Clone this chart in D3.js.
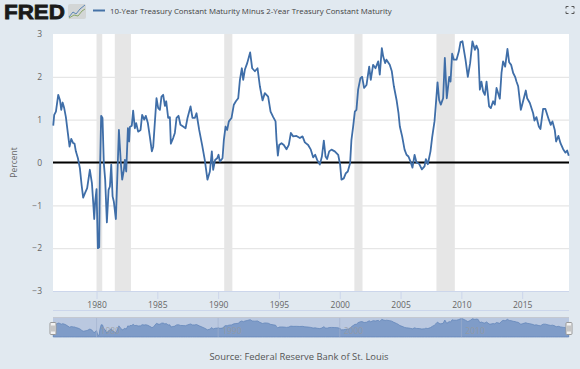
<!DOCTYPE html>
<html>
<head>
<meta charset="utf-8">
<script src="https://cdn.jsdelivr.net/npm/d3@7"></script>
<style>
  html, body { margin: 0; padding: 0; background: #e1e9f0; }
  svg { display: block; font-family: "Open Sans", sans-serif; }
</style>
</head>
<body>
<div id="chart"></div>
<script>
// values, dates as decimal years
var dates = [
  1976.44,1976.52,1976.66,1976.85,1976.99,1977.10,1977.21,1977.34,1977.48,1977.64,
  1977.78,1977.92,1978.08,1978.19,1978.30,1978.47,1978.63,1978.77,1978.90,1979.04,
  1979.23,1979.45,1979.62,1979.73,1979.81,1979.89,1980.00,1980.11,1980.22,1980.27,
  1980.38,1980.49,1980.60,1980.71,1980.85,1980.99,1981.10,1981.21,1981.32,1981.42,
  1981.59,1981.84,1982.00,1982.11,1982.25,1982.33,1982.44,1982.58,1982.68,1982.74,
  1982.90,1983.01,1983.15,1983.26,1983.42,1983.62,1983.75,1983.92,1984.05,1984.22,
  1984.38,1984.55,1984.66,1984.93,1985.07,1985.21,1985.34,1985.48,1985.62,1985.73,
  1985.89,1986.03,1986.11,1986.30,1986.44,1986.58,1986.74,1986.90,1987.12,1987.32,
  1987.48,1987.73,1987.89,1988.08,1988.22,1988.44,1988.68,1988.90,1989.12,1989.32,
  1989.48,1989.59,1989.75,1989.92,1990.03,1990.14,1990.36,1990.47,1990.61,1990.74,
  1990.88,1991.10,1991.29,1991.46,1991.65,1991.79,1991.95,1992.06,1992.20,1992.39,
  1992.63,1992.80,1993.02,1993.24,1993.43,1993.65,1993.84,1994.11,1994.31,1994.53,
  1994.72,1994.80,1994.91,1995.02,1995.21,1995.40,1995.62,1995.81,1995.98,1996.17,
  1996.44,1996.72,1996.94,1997.13,1997.40,1997.62,1997.81,1997.98,1998.14,1998.36,
  1998.53,1998.69,1998.83,1998.96,1999.13,1999.32,1999.59,1999.87,2000.03,2000.14,
  2000.33,2000.50,2000.66,2000.85,2000.96,2001.10,2001.24,2001.37,2001.51,2001.70,
  2001.84,2002.00,2002.20,2002.42,2002.55,2002.74,2002.94,2003.16,2003.29,2003.46,
  2003.57,2003.73,2003.84,2004.11,2004.28,2004.45,2004.67,2004.83,2004.94,2005.13,
  2005.33,2005.49,2005.65,2005.82,2005.98,2006.15,2006.31,2006.53,2006.75,2006.97,
  2007.08,2007.24,2007.46,2007.60,2007.79,2007.90,2008.04,2008.17,2008.31,2008.50,
  2008.64,2008.80,2009.00,2009.11,2009.24,2009.38,2009.60,2009.79,2009.93,2010.09,
  2010.34,2010.53,2010.72,2010.91,2011.11,2011.24,2011.38,2011.52,2011.65,2011.79,
  2011.93,2012.07,2012.28,2012.42,2012.61,2012.75,2012.89,2013.16,2013.30,2013.43,
  2013.60,2013.79,2013.93,2014.09,2014.26,2014.42,2014.53,2014.67,2014.89,2015.00,
  2015.30,2015.41,2015.63,2015.90,2016.01,2016.17,2016.37,2016.50,2016.72,2016.91,
  2017.19,2017.35,2017.49,2017.68,2017.79,2017.98,2018.15,2018.37,2018.56,2018.70,
  2018.83
];
var spread = [
  0.86,1.11,1.19,1.58,1.46,1.23,1.40,1.27,1.06,0.69,
  0.37,0.55,0.45,0.44,0.26,0.10,-0.13,-0.52,-0.82,-0.72,
  -0.60,-0.17,-0.48,-0.95,-1.32,-0.91,-0.62,-2.00,-1.98,-0.40,
  1.09,1.04,-0.02,-0.40,-1.40,-0.64,-0.56,-0.05,-0.79,-0.91,
  -1.32,0.76,-0.02,-0.40,-0.17,0.06,-0.21,0.80,0.49,0.83,
  0.86,1.21,0.80,0.92,0.72,0.76,1.11,1.00,1.09,0.92,
  0.61,0.26,0.37,1.50,1.27,1.23,1.54,1.58,1.32,1.43,
  1.04,1.06,0.44,0.57,0.69,1.04,1.09,0.88,0.84,0.80,
  1.04,1.31,1.04,1.04,1.15,0.76,0.41,0.06,-0.40,-0.21,
  0.26,-0.17,0.06,0.10,0.18,0.02,0.10,0.53,0.84,0.76,
  0.96,1.04,1.35,1.43,1.50,1.93,2.20,1.93,2.17,2.32,
  2.57,2.20,2.13,2.20,1.78,1.45,1.62,1.54,1.19,1.06,
  0.96,0.53,0.16,0.41,0.45,0.41,0.31,0.41,0.69,0.61,
  0.62,0.57,0.61,0.47,0.41,0.30,0.12,0.18,0.06,-0.05,
  0.14,0.51,0.14,0.08,0.26,0.30,0.26,0.18,-0.05,-0.40,
  -0.37,-0.25,-0.21,-0.02,0.53,0.84,1.19,1.23,1.70,1.97,
  2.00,1.74,1.81,2.24,1.93,2.28,2.20,2.36,2.05,2.67,
  2.48,2.32,2.40,2.28,2.13,1.78,1.46,1.15,0.84,0.61,
  0.30,0.18,0.14,0.02,-0.12,0.18,0.00,-0.03,-0.16,-0.09,
  0.08,-0.04,0.26,0.59,0.96,1.35,1.87,1.46,1.35,1.50,
  2.44,1.50,2.00,1.89,2.54,2.40,2.40,2.59,2.81,2.83,
  2.40,2.00,2.32,2.83,2.63,2.73,2.63,1.70,1.89,1.66,
  1.58,1.89,1.31,1.27,1.43,1.35,1.74,1.49,2.09,2.36,
  2.24,2.65,2.34,2.28,2.09,2.00,1.89,1.78,1.23,1.35,
  1.68,1.50,1.39,1.15,0.98,1.06,0.84,0.78,1.25,1.25,
  1.00,0.88,0.96,0.76,0.49,0.62,0.45,0.31,0.23,0.28,
  0.16
];
var recessionStart = [1980.0, 1981.5, 1990.5, 2001.2, 2007.95];
var recessionEnd = [1980.47, 1982.83, 1991.17, 2001.87, 2009.46];
var yTicks = [-3, -2, -1, 0, 1, 2, 3];
var xTicks = [1980, 1985, 1990, 1995, 2000, 2005, 2010, 2015];
var navTicks = [1980, 1990, 2000, 2010];
var seriesName = "10-Year Treasury Constant Maturity Minus 2-Year Treasury Constant Maturity";
var sourceText = "Source: Federal Reserve Bank of St. Louis";

var series = dates.map(function(d, i) { return {date: d, value: spread[i]}; });

// set the dimensions and margins of the graph
var width = 580, height = 369;
var margin = {top: 34, right: 11, bottom: 78, left: 53};
var plotWidth = width - margin.left - margin.right,
    plotHeight = height - margin.top - margin.bottom;

var svg = d3.select("#chart")
  .append("svg")
    .attr("width", width)
    .attr("height", height);

var x = d3.scaleLinear().domain([1976.42, 2018.85]).range([margin.left, margin.left + plotWidth]);
var y = d3.scaleLinear().domain([-3, 3]).range([margin.top + plotHeight, margin.top]);

// plot background
svg.append("rect")
  .attr("x", margin.left).attr("y", margin.top)
  .attr("width", plotWidth).attr("height", plotHeight)
  .attr("fill", "#fff");

// recession bands
svg.selectAll("rect.band")
  .data(recessionStart)
  .enter()
  .append("rect")
    .attr("class", "band")
    .attr("x", function(d) { return x(d); })
    .attr("y", margin.top)
    .attr("width", function(d, i) { return x(recessionEnd[i]) - x(d); })
    .attr("height", plotHeight)
    .attr("fill", "#e6e6e6");

// Y axis, only the grid and the labels are visible
var yAxis = svg.append("g")
  .attr("transform", "translate(" + margin.left + ",0)")
  .call(d3.axisLeft(y).tickValues(yTicks).tickSize(-plotWidth).tickPadding(11).tickFormat(d3.format("d")));
yAxis.select(".domain").remove();
yAxis.selectAll("line")
  .attr("stroke", "#e6e6e6")
  .attr("stroke-width", function(d) { return (d === 3 || d === -3) ? 0 : 1.2; });
yAxis.selectAll("text")
  .attr("fill", "#666")
  .style("font-size", "8.5px")
  .style("font-family", '"Open Sans", sans-serif');

// X axis
var xAxis = svg.append("g")
  .attr("transform", "translate(0," + (margin.top + plotHeight) + ")")
  .call(d3.axisBottom(x).tickValues(xTicks).tickSize(8).tickPadding(3).tickFormat(d3.format("d")));
xAxis.select(".domain").attr("stroke", "#ccd6eb").attr("d", "M" + margin.left + ",0.5H" + (margin.left + plotWidth));
xAxis.selectAll("line").attr("stroke", "#ccd6eb");
xAxis.selectAll("text")
  .attr("fill", "#666")
  .style("font-size", "8.5px")
  .style("font-family", '"Open Sans", sans-serif');

// zero line
svg.append("line")
  .attr("x1", margin.left).attr("x2", margin.left + plotWidth)
  .attr("y1", y(0)).attr("y2", y(0))
  .attr("stroke", "#000").attr("stroke-width", 2);

// the series
var line = d3.line()
  .x(function(d) { return x(d.date); })
  .y(function(d) { return y(d.value); });
svg.append("path")
  .datum(series)
  .attr("fill", "none")
  .attr("stroke", "#3f6ea8")
  .attr("stroke-width", 1.8)
  .attr("stroke-linejoin", "round")
  .attr("d", line);

svg.append("text")
  .attr("transform", "translate(17," + y(0) + ") rotate(-90)")
  .attr("text-anchor", "middle")
  .attr("fill", "#666")
  .style("font-size", "8.5px")
  .text("Percent");

// navigator under the chart
var navTop = 318, navBottom = 337;
var yNav = d3.scaleLinear().domain([-2.5, 3.05]).range([navBottom, navTop]);

svg.append("line")
  .attr("x1", margin.left).attr("x2", margin.left + plotWidth)
  .attr("y1", 310.5).attr("y2", 310.5)
  .attr("stroke", "#ccd6eb");

svg.append("rect")
  .attr("x", margin.left).attr("y", navTop)
  .attr("width", plotWidth).attr("height", navBottom - navTop)
  .attr("fill", "#bac8e0");

var navArea = d3.area()
  .x(function(d) { return x(d.date); })
  .y0(navBottom)
  .y1(function(d) { return yNav(d.value); });
svg.append("path")
  .datum(series)
  .attr("fill", "#7f9cc8")
  .attr("stroke", "#5f82b8")
  .attr("stroke-width", 0.7)
  .attr("d", navArea);

svg.selectAll("line.navgrid")
  .data(navTicks)
  .enter()
  .append("line")
    .attr("class", "navgrid")
    .attr("x1", function(d) { return x(d); })
    .attr("x2", function(d) { return x(d); })
    .attr("y1", navTop).attr("y2", navBottom)
    .attr("stroke", "#9fb0cc")
    .attr("stroke-width", 0.6);

svg.selectAll("text.navlabel")
  .data(navTicks)
  .enter()
  .append("text")
    .attr("class", "navlabel")
    .attr("x", function(d) { return x(d) + 4; })
    .attr("y", 334)
    .attr("fill", "#999")
    .attr("fill-opacity", 0.75)
    .style("font-size", "8.5px")
    .text(function(d) { return d; });

svg.append("line")
  .attr("x1", margin.left).attr("x2", margin.left + plotWidth)
  .attr("y1", 317.5).attr("y2", 317.5)
  .attr("stroke", "#c4c8d0");

// navigator handles
svg.selectAll("g.handle")
  .data([margin.left, margin.left + plotWidth])
  .enter()
  .append("g")
    .attr("class", "handle")
    .attr("transform", function(d) { return "translate(" + d + ",0)"; })
    .each(function() {
      var g = d3.select(this);
      g.append("rect").attr("x", -3).attr("y", 322.5).attr("width", 6).attr("height", 12).attr("rx", 1)
        .attr("fill", "#f2f2f2").attr("stroke", "#999");
      g.append("path").attr("d", "M-1,325.5V331.5M1,325.5V331.5").attr("stroke", "#999").attr("fill", "none");
    });

// legend
svg.append("line")
  .attr("x1", 93).attr("x2", 105).attr("y1", 10.5).attr("y2", 10.5)
  .attr("stroke", "#4572a7").attr("stroke-width", 2);
svg.append("text")
  .attr("x", 110).attr("y", 13.5)
  .attr("fill", "#444")
  .style("font-size", "7.85px")
  .text(seriesName);

// source
svg.append("text")
  .attr("x", 299).attr("y", 359.5)
  .attr("text-anchor", "middle")
  .attr("fill", "#555")
  .style("font-size", "9.4px")
  .text(sourceText);

// FRED logo
svg.append("text")
  .attr("x", 4).attr("y", 19)
  .attr("textLength", 61)
  .attr("lengthAdjust", "spacingAndGlyphs")
  .attr("fill", "#1a1a1a")
  .attr("stroke", "#1a1a1a")
  .attr("stroke-width", 0.8)
  .style("font-size", "21px")
  .style("font-weight", 700)
  .style("font-family", '"Liberation Sans", sans-serif')
  .text("FRED");
svg.append("rect")
  .attr("x", 68).attr("y", 4).attr("width", 18).attr("height", 15).attr("rx", 2)
  .attr("fill", "#d3d6d6");
svg.append("path")
  .attr("d", "M69,17L73,12L76,14L80,9L85,5")
  .attr("fill", "none").attr("stroke", "#5b86b5");
svg.append("path")
  .attr("d", "M69,18L74,15L78,16L82,11L85,9")
  .attr("fill", "none").attr("stroke", "#8aa86a");

// fullscreen icon
svg.append("path")
  .attr("d", "M566,8.5V6.5H568.5M571.5,6.5H574V8.5M574,11.5V13.5H571.5M568.5,13.5H566V11.5")
  .attr("fill", "none")
  .attr("stroke", "#555")
  .attr("stroke-width", 1);
</script>
</body>
</html>
